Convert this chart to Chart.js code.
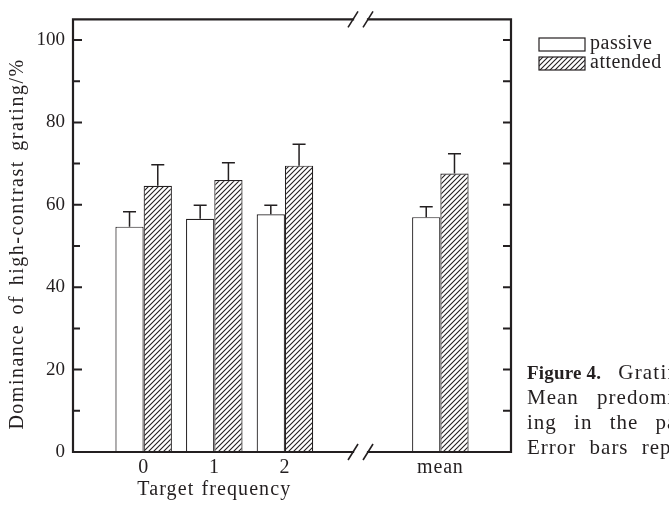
<!DOCTYPE html>
<html>
<head>
<meta charset="utf-8">
<script src="https://cdn.jsdelivr.net/npm/chart.js@4.4.1/dist/chart.umd.min.js"></script>
<style>
  body { margin: 0; background: #fff; }
  canvas { display: block; }
</style>
</head>
<body>
<canvas id="myChart" width="669" height="505"></canvas>
<script>
// categories and where they sit on the x axis (there is a break between 2 and mean)
var categories = ["0", "1", "2", "mean"];
var xPositions = [0, 1, 2, 4.2];
var breakAt = 3.07;

var passive = [54.7, 56.6, 57.7, 57.0];
var passiveErr = [3.6, 3.3, 2.2, 2.5];
var attended = [64.6, 66.0, 69.5, 67.6];
var attendedErr = [5.1, 4.2, 5.2, 4.8];

var yTicks = [0, 20, 40, 60, 80, 100];
var yMinorTicks = [10, 30, 50, 70, 90];

var ink = "#231f20";
var serif = "'Liberation Serif', 'DejaVu Serif', serif";

function hatch() {
  var p = document.createElement("canvas");
  p.width = 5;
  p.height = 5;
  var c = p.getContext("2d");
  c.fillStyle = "#fff";
  c.fillRect(0, 0, 5, 5);
  c.strokeStyle = ink;
  c.lineWidth = 1.1;
  c.beginPath();
  c.moveTo(-1, 6); c.lineTo(6, -1);
  c.moveTo(-1, 1); c.lineTo(1, -1);
  c.moveTo(4, 6); c.lineTo(6, 4);
  c.stroke();
  return document.getElementById("myChart").getContext("2d").createPattern(p, "repeat");
}

var errors = [passiveErr, attendedErr];

function spaced(ctx, font, letter, word) {
  ctx.font = font;
  ctx.letterSpacing = letter + "px";
  ctx.wordSpacing = word + "px";
}

// frame, inward ticks, axis breaks, error bars, labels, legend, caption
var extras = {
  id: "extras",
  afterDatasetsDraw: function (chart) {
    var ctx = chart.ctx;
    var a = chart.chartArea;
    var x = chart.scales.x;
    var y = chart.scales.y;
    ctx.save();

    // error bars (upper only)
    ctx.strokeStyle = ink;
    ctx.lineWidth = 1.5;
    chart.data.datasets.forEach(function (ds, di) {
      chart.getDatasetMeta(di).data.forEach(function (bar, i) {
        var top = y.getPixelForValue(ds.data[i].y + errors[di][i]);
        ctx.beginPath();
        ctx.moveTo(bar.x, bar.y);
        ctx.lineTo(bar.x, top);
        ctx.moveTo(bar.x - 6.5, top);
        ctx.lineTo(bar.x + 6.5, top);
        ctx.stroke();
      });
    });

    // frame with breaks on top and bottom
    var bx = x.getPixelForValue(breakAt);
    var g1 = bx - 7.5, g2 = bx + 7.5;
    ctx.lineWidth = 2.2;
    ctx.lineCap = "square";
    ctx.beginPath();
    ctx.moveTo(a.left, a.top); ctx.lineTo(a.left, a.bottom);
    ctx.moveTo(a.right, a.top); ctx.lineTo(a.right, a.bottom);
    ctx.moveTo(a.left, a.top); ctx.lineTo(g1, a.top);
    ctx.moveTo(g2, a.top); ctx.lineTo(a.right, a.top);
    ctx.moveTo(a.left, a.bottom); ctx.lineTo(g1, a.bottom);
    ctx.moveTo(g2, a.bottom); ctx.lineTo(a.right, a.bottom);
    ctx.stroke();
    ctx.lineCap = "butt";
    ctx.lineWidth = 1.6;
    ctx.beginPath();
    [a.top, a.bottom].forEach(function (yy) {
      [g1, g2].forEach(function (gx) {
        ctx.moveTo(gx - 5, yy + 8);
        ctx.lineTo(gx + 5, yy - 8);
      });
    });
    ctx.stroke();

    // inward ticks on both y sides
    ctx.lineWidth = 2;
    ctx.beginPath();
    yTicks.concat(yMinorTicks).forEach(function (v) {
      var py = y.getPixelForValue(v);
      var len = yTicks.indexOf(v) >= 0 ? 9 : 7;
      ctx.moveTo(a.left, py); ctx.lineTo(a.left + len, py);
      ctx.moveTo(a.right, py); ctx.lineTo(a.right - 8, py);
    });
    ctx.stroke();

    // x tick labels
    ctx.fillStyle = ink;
    ctx.textAlign = "center";
    ctx.textBaseline = "middle";
    spaced(ctx, "20px " + serif, 0.8, 0);
    xPositions.forEach(function (v, i) {
      ctx.fillText(categories[i], x.getPixelForValue(v), 468);
    });

    // x axis title, centred under the 0..2 groups
    spaced(ctx, "20px " + serif, 1.1, 1);
    ctx.fillText("Target frequency", x.getPixelForValue(1), 490);

    // y axis title
    ctx.save();
    ctx.translate(18, y.getPixelForValue(50) - 2);
    ctx.rotate(-Math.PI / 2);
    spaced(ctx, "20px " + serif, 1.5, 3);
    ctx.fillText("Dominance of high-contrast grating/%", 0, 0);
    ctx.restore();

    // legend
    ctx.textAlign = "left";
    spaced(ctx, "20px " + serif, 0.5, 0);
    chart.data.datasets.forEach(function (ds, di) {
      var ly = 38 + di * 19;
      ctx.fillStyle = ds.backgroundColor;
      ctx.fillRect(539, ly, 46, 13);
      ctx.strokeStyle = ink;
      ctx.lineWidth = 1.2;
      ctx.strokeRect(539, ly, 46, 13);
      ctx.fillStyle = ink;
      ctx.fillText(ds.label, 590, ly + 6);
    });

    // caption (runs off the page edge)
    ctx.textBaseline = "alphabetic";
    spaced(ctx, "bold 19px " + serif, 0.2, 0);
    ctx.fillText("Figure 4.", 527, 379);
    var w = ctx.measureText("Figure 4.").width;
    spaced(ctx, "21px " + serif, 1.2, 0);
    ctx.fillText("Grating dominance.", 527 + w + 17, 379);
    spaced(ctx, "21px " + serif, 1.0, 12);
    ctx.fillText("Mean predominance of the high-contrast grat-", 527, 404);
    spaced(ctx, "21px " + serif, 1.0, 11);
    ctx.fillText("ing in the passive and attended conditions.", 527, 429);
    spaced(ctx, "21px " + serif, 1.0, 7);
    ctx.fillText("Error bars represent the standard error.", 527, 454);

    ctx.restore();
  }
};

new Chart("myChart", {
  type: "bar",
  data: {
    datasets: [
      {
        label: "passive",
        data: xPositions.map(function (v, i) { return { x: v, y: passive[i] }; }),
        backgroundColor: "#ffffff",
        borderColor: ink,
        borderWidth: 1.2,
        categoryPercentage: 0.8,
        barPercentage: 1.0,
      },
      {
        label: "attended",
        data: xPositions.map(function (v, i) { return { x: v, y: attended[i] }; }),
        backgroundColor: hatch(),
        borderColor: ink,
        borderWidth: 1.2,
        categoryPercentage: 0.8,
        barPercentage: 1.0,
      },
    ],
  },
  options: {
    responsive: false,
    animation: false,
    layout: { padding: { top: 14, right: 158, left: 0, bottom: 0 } },
    plugins: { legend: { display: false }, tooltip: { enabled: false } },
    scales: {
      x: {
        type: "linear",
        offset: false,
        min: -1,
        max: 5.2,
        grid: { display: false, drawTicks: false },
        border: { display: false },
        afterBuildTicks: function (s) {
          s.ticks = xPositions.map(function (v) { return { value: v }; });
        },
        afterFit: function (s) { s.height = 53; },
        ticks: { display: false },
      },
      y: {
        min: 0,
        max: 105,
        grid: { display: false, drawTicks: false },
        border: { display: false },
        afterBuildTicks: function (s) {
          s.ticks = yTicks.map(function (v) { return { value: v }; });
        },
        afterFit: function (s) { s.width = 73; },
        ticks: {
          padding: 8,
          color: ink,
          font: { family: serif, size: 19 },
        },
      },
    },
  },
  plugins: [extras],
});
</script>
</body>
</html>
